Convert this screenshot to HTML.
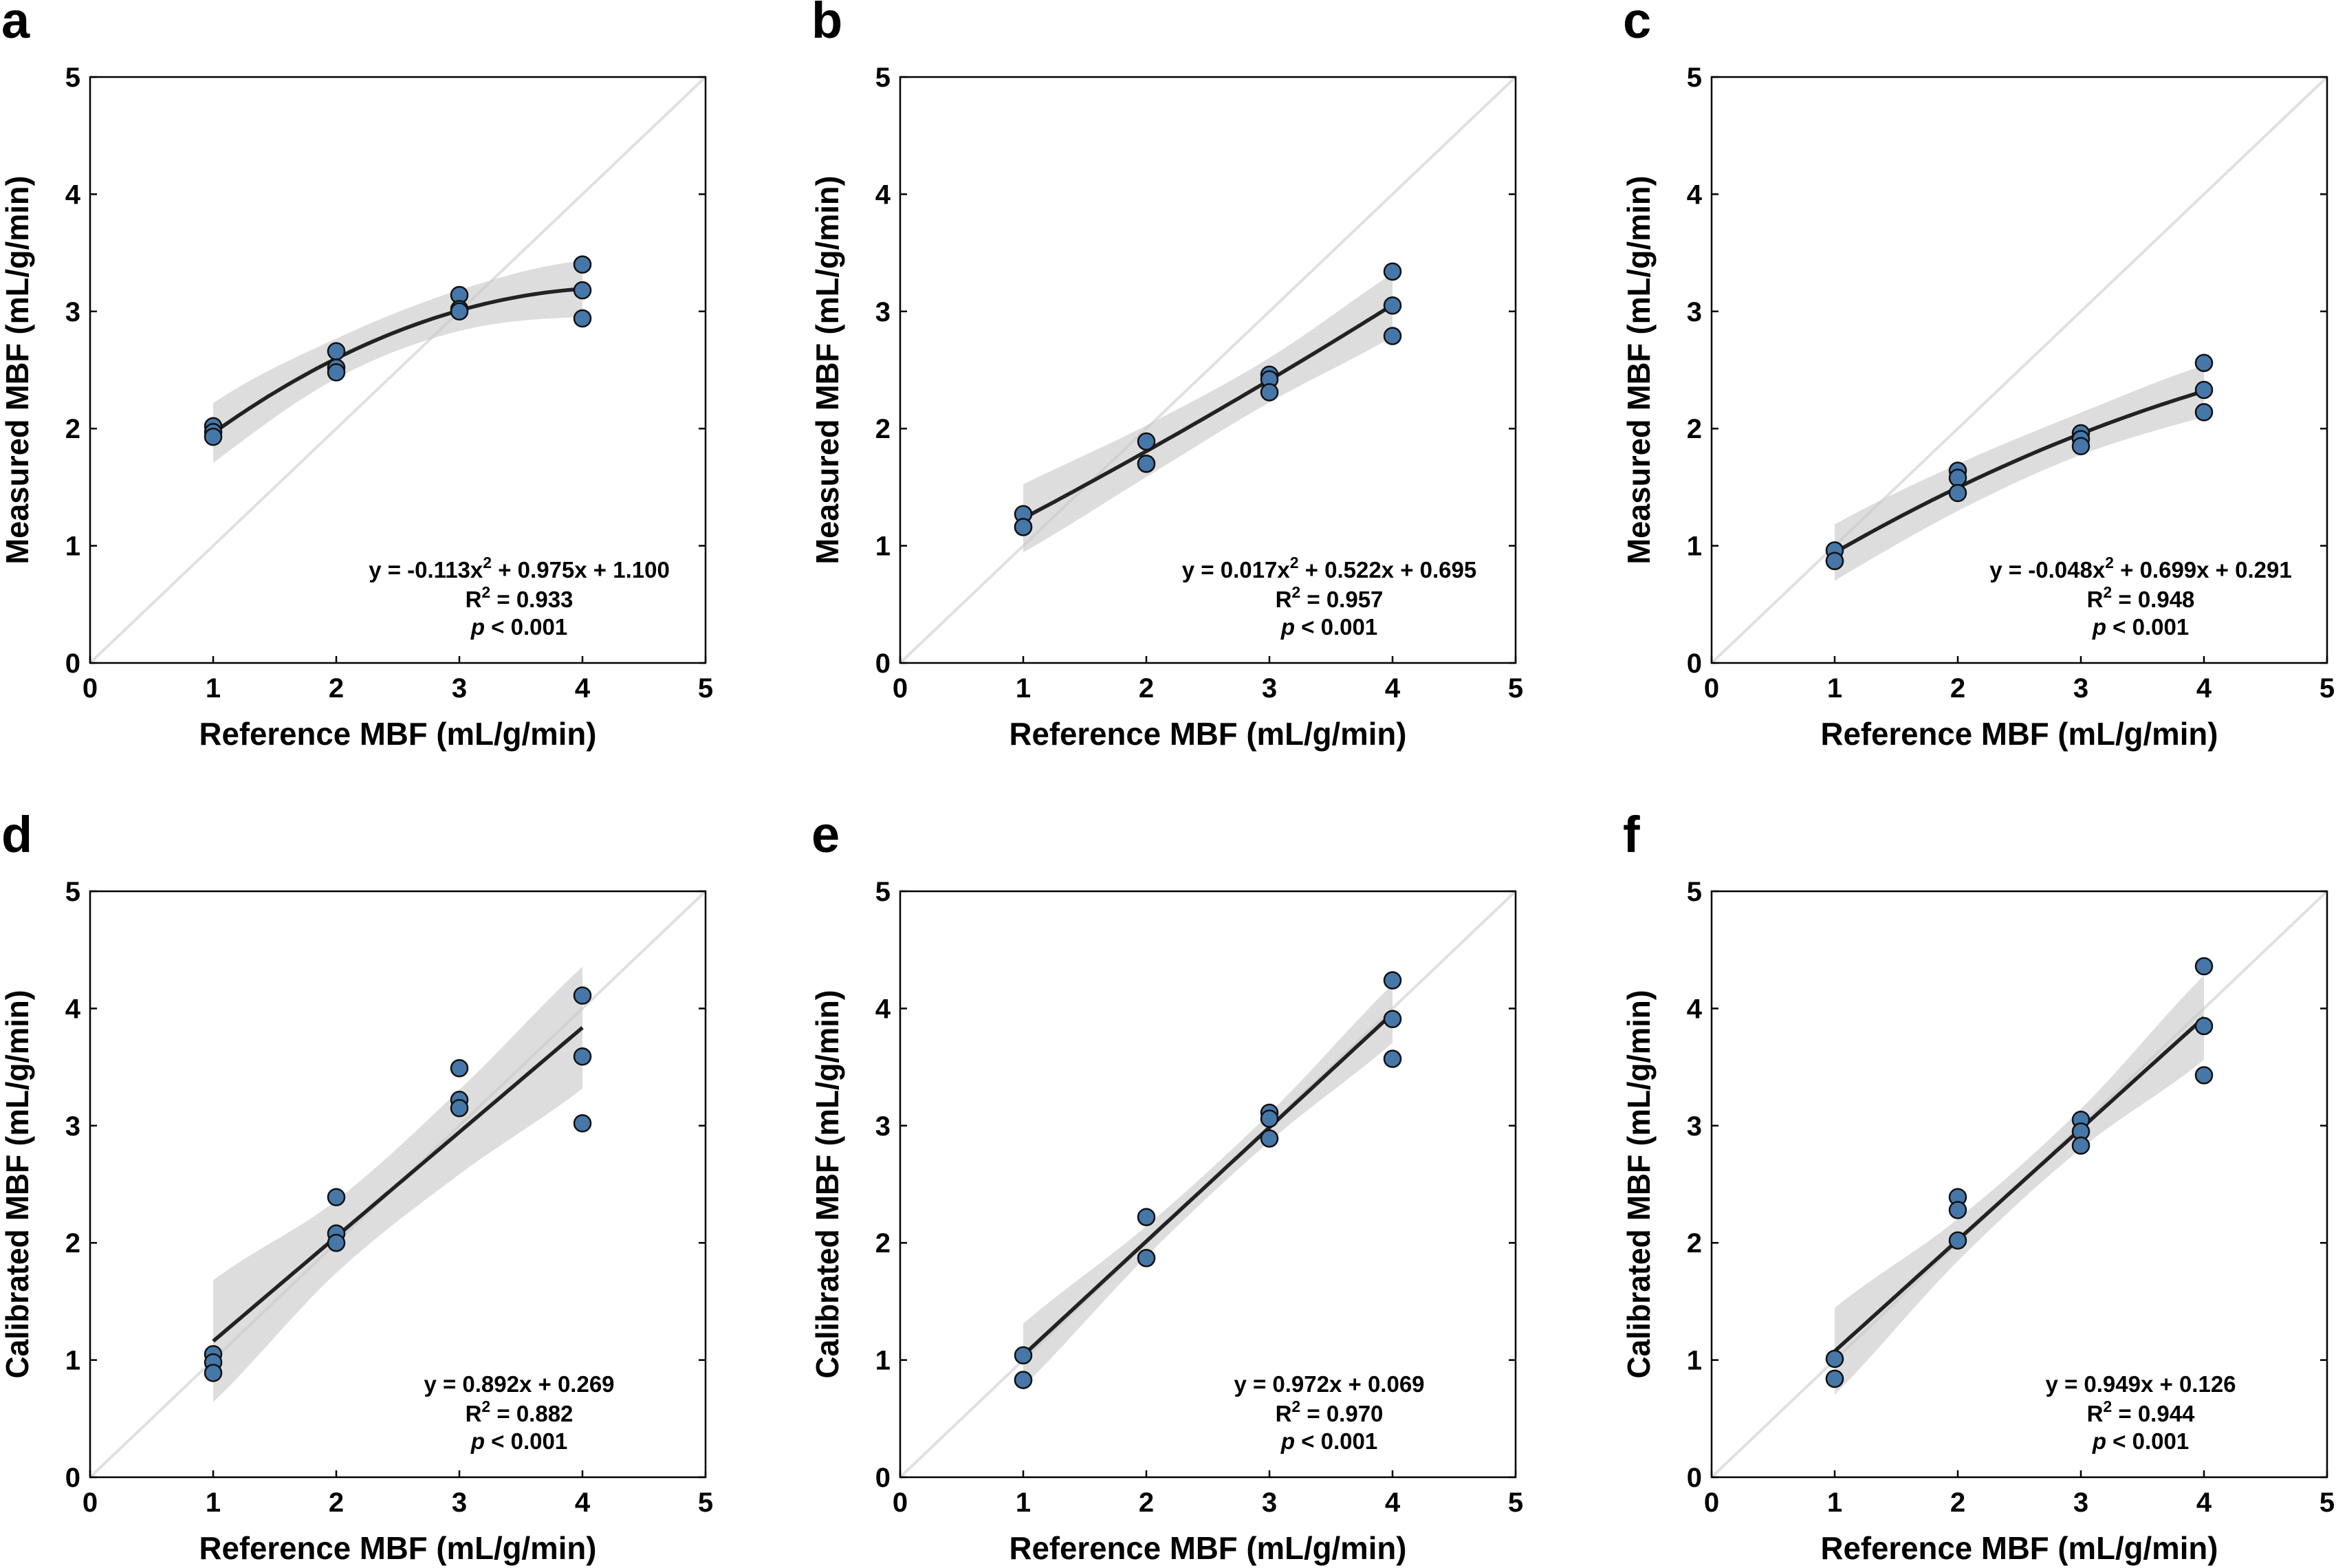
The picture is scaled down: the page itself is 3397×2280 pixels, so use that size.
<!DOCTYPE html>
<html><head><meta charset="utf-8"><style>
html,body{margin:0;padding:0;background:#fff;}
svg{display:block;font-family:"Liberation Sans",Arial,sans-serif;}
</style></head><body>
<svg id="fig" width="3397" height="2280" viewBox="0 0 3397 2280" xmlns="http://www.w3.org/2000/svg"></svg>
<script>
// ---- data ----
const xCats = [1, 2, 3, 4];
const tickVals = [0, 1, 2, 3, 4, 5];
const panelLetters = ['a','b','c','d','e','f'];
const yTitles = ['Measured MBF (mL/g/min)','Measured MBF (mL/g/min)','Measured MBF (mL/g/min)','Calibrated MBF (mL/g/min)','Calibrated MBF (mL/g/min)','Calibrated MBF (mL/g/min)'];
const xTitle = 'Reference MBF (mL/g/min)';
// points per panel: [x, y]
const ptsA = [[1,2.02],[1,1.97],[1,1.93],[2,2.66],[2,2.52],[2,2.48],[3,3.14],[3,3.02],[3,3.00],[4,3.40],[4,3.18],[4,2.94]];
const ptsB = [[1,1.27],[1,1.16],[1,1.16],[2,1.89],[2,1.70],[2,1.70],[3,2.46],[3,2.42],[3,2.31],[4,3.34],[4,3.05],[4,2.79]];
const ptsC = [[1,0.96],[1,0.87],[1,0.87],[2,1.64],[2,1.58],[2,1.45],[3,1.96],[3,1.91],[3,1.85],[4,2.56],[4,2.33],[4,2.14]];
const ptsD = [[1,1.05],[1,0.98],[1,0.89],[2,2.39],[2,2.08],[2,2.00],[3,3.49],[3,3.22],[3,3.15],[4,4.11],[4,3.59],[4,3.02]];
const ptsE = [[1,1.04],[1,0.83],[1,0.83],[2,2.22],[2,1.87],[2,1.87],[3,3.11],[3,3.06],[3,2.89],[4,4.24],[4,3.91],[4,3.57]];
const ptsF = [[1,1.01],[1,0.84],[1,0.84],[2,2.39],[2,2.28],[2,2.02],[3,3.05],[3,2.95],[3,2.83],[4,4.36],[4,3.85],[4,3.43]];
// fit coefficients [a2, a1, a0]
const coefA = [-0.113, 0.975, 1.100];
const coefB = [0.017, 0.522, 0.695];
const coefC = [-0.048, 0.699, 0.291];
const coefD = [0, 0.892, 0.269];
const coefE = [0, 0.972, 0.069];
const coefF = [0, 0.949, 0.126];
// CI half-widths at x = 1,2,3,4
const ciA = [0.255, 0.17, 0.175, 0.24];
const ciB = [0.29, 0.22, 0.19, 0.27];
const ciC = [0.24, 0.20, 0.18, 0.22];
const ciD = [0.52, 0.31, 0.36, 0.52];
const ciE = [0.27, 0.13, 0.12, 0.25];
const ciF = [0.37, 0.18, 0.17, 0.36];
const eqA = ['y = -0.113x', '2', ' + 0.975x + 1.100'];
const eqB = ['y = 0.017x', '2', ' + 0.522x + 0.695'];
const eqC = ['y = -0.048x', '2', ' + 0.699x + 0.291'];
const eqD = ['y = 0.892x + 0.269', '', ''];
const eqE = ['y = 0.972x + 0.069', '', ''];
const eqF = ['y = 0.949x + 0.126', '', ''];
const r2Vals = ['0.933','0.957','0.948','0.882','0.970','0.944'];

const NS = 'http://www.w3.org/2000/svg';
const svg = document.getElementById('fig');
function mk(tag, attrs, parent){const e=document.createElementNS(NS,tag);for(const k in attrs)e.setAttribute(k,attrs[k]);(parent||svg).appendChild(e);return e;}

const lefts = [131, 1309, 2489];
const tops = [112, 1296];
const W = 895, H = 852;
const panels = [
 {pts:ptsA,coef:coefA,ci:ciA,eq:eqA},{pts:ptsB,coef:coefB,ci:ciB,eq:eqB},{pts:ptsC,coef:coefC,ci:ciC,eq:eqC},
 {pts:ptsD,coef:coefD,ci:ciD,eq:eqD},{pts:ptsE,coef:coefE,ci:ciE,eq:eqE},{pts:ptsF,coef:coefF,ci:ciF,eq:eqF}];

function ciAt(ci, x){
  const t = x - 1; let i = Math.min(2, Math.floor(t)); const u = t - i;
  const p0 = ci[Math.max(0,i-1)], p1 = ci[i], p2 = ci[i+1], p3 = ci[Math.min(3,i+2)];
  return 0.5*((2*p1)+(-p0+p2)*u+(2*p0-5*p1+4*p2-p3)*u*u+(-p0+3*p1-3*p2+p3)*u*u*u);
}

panels.forEach((p, idx) => {
  const L = lefts[idx%3], T = tops[Math.floor(idx/3)], B = T + H;
  const sx = v => L + v / 5 * W;
  const sy = v => B - v / 5 * H;
  const g = mk('g', {});
  
  

  const lt = mk('text', {x: L - 129, y: T - 57, 'font-size': 74, 'font-weight': 'bold', fill: '#000'}, g);
  lt.textContent = panelLetters[idx];
  
  

  const id = mk('line', {x1: sx(0), y1: sy(0), x2: sx(5), y2: sy(5), stroke: '#e0e0e0', 'stroke-width': 4}, g);
  
  

  const f = x => p.coef[0]*x*x + p.coef[1]*x + p.coef[2];
  let up = [], lo = [];
  for (let k = 0; k <= 60; k++) {
    const x = 1 + 3*k/60; const h = ciAt(p.ci, x);
    up.push(sx(x).toFixed(1) + ',' + sy(f(x)+h).toFixed(1));
    lo.push(sx(x).toFixed(1) + ',' + sy(f(x)-h).toFixed(1));
  }
  const band = mk('polygon', {points: up.concat(lo.reverse()).join(' '), fill: '#c8c8c8', 'fill-opacity': 0.62}, g);
  
  

  let fl = [];
  for (let k = 0; k <= 60; k++) { const x = 1 + 3*k/60; fl.push(sx(x).toFixed(1) + ',' + sy(f(x)).toFixed(1)); }
  const fit = mk('polyline', {points: fl.join(' '), fill: 'none', stroke: '#222', 'stroke-width': 5.5}, g);
  
  

  p.pts.forEach(pt => {
    const c = mk('circle', {cx: sx(pt[0]), cy: sy(pt[1]), r: 12, fill: '#4677a9', stroke: '#111', 'stroke-width': 2.5}, g);
    
    
  });

  const fr = mk('rect', {x: L, y: T, width: W, height: H, fill: 'none', stroke: '#000', 'stroke-width': 2.5}, g);
  
  

  tickVals.forEach(v => {
    mk('line', {x1: sx(v), y1: B, x2: sx(v), y2: B - 10, stroke: '#000', 'stroke-width': 2.5}, g);
    mk('line', {x1: L, y1: sy(v), x2: L + 10, y2: sy(v), stroke: '#000', 'stroke-width': 2.5}, g);
    mk('line', {x1: L + W, y1: sy(v), x2: L + W - 10, y2: sy(v), stroke: '#000', 'stroke-width': 2.5}, g);
    const xl = mk('text', {x: sx(v), y: B + 50, 'font-size': 40, 'font-weight': 'bold', 'text-anchor': 'middle'}, g);
    xl.textContent = v;
    
    
    const yl = mk('text', {x: L - 14, y: sy(v) + 14, 'font-size': 40, 'font-weight': 'bold', 'text-anchor': 'end'}, g);
    yl.textContent = v;
    
    
  });

  const xt = mk('text', {x: L + W/2, y: B + 119, 'font-size': 46, 'font-weight': 'bold', 'text-anchor': 'middle', textLength: 578, lengthAdjust: 'spacingAndGlyphs'}, g);
  xt.textContent = xTitle;
  
  
  const yx = L - 90, yy = T + H/2;
  const yt = mk('text', {x: yx, y: yy, 'font-size': 46, 'font-weight': 'bold', 'text-anchor': 'middle', transform: 'rotate(-90 ' + yx + ' ' + yy + ')', textLength: 565, lengthAdjust: 'spacingAndGlyphs'}, g);
  yt.textContent = yTitles[idx];
  
  

  const cx = L + 624;
  const e1 = mk('text', {x: cx, y: B - 124, 'font-size': 33, 'font-weight': 'bold', 'text-anchor': 'middle'}, g);
  
  
  const s1 = mk('tspan', {}, e1); s1.textContent = p.eq[0];
  if (p.eq[1]) {
    const s2 = mk('tspan', {'font-size': 23, dy: -14}, e1); s2.textContent = p.eq[1];
    const s3 = mk('tspan', {dy: 14}, e1); s3.textContent = p.eq[2];
  }
  const e2 = mk('text', {x: cx, y: B - 81, 'font-size': 33, 'font-weight': 'bold', 'text-anchor': 'middle'}, g);
  
  
  mk('tspan', {}, e2).textContent = 'R';
  mk('tspan', {'font-size': 23, dy: -14}, e2).textContent = '2';
  mk('tspan', {dy: 14}, e2).textContent = ' = ' + r2Vals[idx];
  const e3 = mk('text', {x: cx, y: B - 41, 'font-size': 33, 'font-weight': 'bold', 'text-anchor': 'middle'}, g);
  
  
  mk('tspan', {'font-style': 'italic'}, e3).textContent = 'p';
  mk('tspan', {}, e3).textContent = ' < 0.001';
});
</script>
</body></html>
